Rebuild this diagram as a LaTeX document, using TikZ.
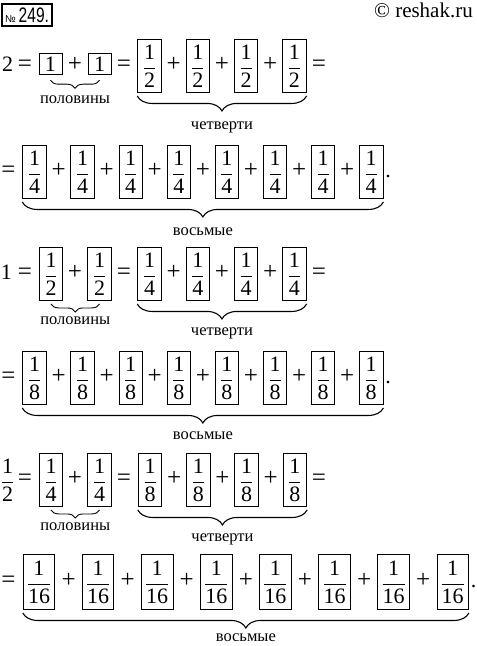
\documentclass[tikz,border=0pt]{standalone}
\usepackage{fontspec}
\usepackage{graphicx}
\setmainfont{Liberation Serif}
\newfontfamily\sansnum{Liberation Sans}
\usetikzlibrary{decorations.pathreplacing,calc}
\newcommand{\fr}[2]{$\displaystyle\frac{\mbox{#1}}{\mbox{#2}}$}
\begin{document}
\begin{tikzpicture}[x=1pt,y=-1pt,
  every node/.style={font=\rmfamily\fontsize{22}{26}\selectfont, inner sep=0pt},
  fbox/.style={draw, line width=0.9pt, minimum width=23.5pt, minimum height=53pt},
  wbox/.style={fbox, minimum width=31.5pt, minimum height=55pt},
  obox/.style={draw, line width=0.9pt, minimum width=23pt, minimum height=21pt, anchor=base},
  sym/.style={anchor=base},
  op/.style={anchor=base, font=\rmfamily\fontsize{25}{28}\selectfont},
  lbl/.style={font=\rmfamily\fontsize{16.5}{18}\selectfont, anchor=base},
  bigbrace/.style={decorate, decoration={brace, mirror, amplitude=15pt, raise=3pt}, line width=1.1pt},
  smallbrace/.style={decorate, decoration={brace, mirror, amplitude=8pt, raise=3pt}, line width=0.9pt}]
\useasboundingbox (0,0) rectangle (477,646);

% header
\node[draw, line width=1.3pt, minimum width=50pt, minimum height=22pt] (num) at (27,15)
  {\sansnum\fontsize{10}{10}\selectfont №\hspace{3pt}\fontsize{21}{21}\selectfont\scalebox{0.74}[1]{249.}};
\node[anchor=base east, font=\rmfamily\fontsize{21}{24}\selectfont] (cr) at (473,17.5) {© reshak.ru};

% ---------- row 1 ----------
\node[sym] (r1n) at (7.5,71.5) {2};
\node[op] (r1e1) at (25,71.5) {=};
\node[obox] (r1h1) at (50.5,71.5) {1};
\node[op] (r1p1) at (75,71.5) {+};
\node[obox] (r1h2) at (99.5,71.5) {1};
\node[op] (r1e2) at (124,71.5) {=};
\foreach \i in {0,...,3} \node[fbox] (r1q\i) at ({149.5+48.3*\i},66) {\fr{1}{2}};
\foreach \i in {0,1,2} \node[op] (r1qp\i) at ({173.65+48.3*\i},71.5) {+};
\node[op] (r1e3) at (319,71.5) {=};
\draw[smallbrace, decoration={raise=5pt}] (r1h1.south) -- (r1h2.south);
\node[lbl] (r1l1) at ($(r1h1.south)!0.5!(r1h2.south)+(0,28)$) {половины};
\draw[bigbrace] (r1q0.south west) -- (r1q3.south east);
\node[lbl] (r1l2) at ($(r1q0.south west)!0.5!(r1q3.south east)+(0,37)$) {четверти};

% ---------- row 2 ----------
\node[op] (r2e) at (8.5,177.5) {=};
\foreach \i in {0,...,7} \node[fbox] (r2b\i) at ({34.5+48.1*\i},172) {\fr{1}{4}};
\foreach \i in {0,...,6} \node[op] (r2p\i) at ({58.55+48.1*\i},177.5) {+};
\node[sym] (r2d) at (388,177.5) {.};
\draw[bigbrace] (r2b0.south west) -- (r2b7.south east);
\node[lbl] (r2l) at ($(r2b0.south west)!0.5!(r2b7.south east)+(0,37)$) {восьмые};

% ---------- row 3 ----------
\node[sym] (r3n) at (6.5,279.5) {1};
\node[op] (r3e1) at (25,279.5) {=};
\node[fbox] (r3h1) at (51,274) {\fr{1}{2}};
\node[op] (r3p1) at (75,279.5) {+};
\node[fbox] (r3h2) at (99.5,274) {\fr{1}{2}};
\node[op] (r3e2) at (124,279.5) {=};
\foreach \i in {0,...,3} \node[fbox] (r3q\i) at ({149.5+48.3*\i},274) {\fr{1}{4}};
\foreach \i in {0,1,2} \node[op] (r3qp\i) at ({173.65+48.3*\i},279.5) {+};
\node[op] (r3e3) at (319,279.5) {=};
\draw[smallbrace] (r3h1.south) -- (r3h2.south);
\node[lbl] (r3l1) at ($(r3h1.south)!0.5!(r3h2.south)+(0,24)$) {половины};
\draw[bigbrace] (r3q0.south west) -- (r3q3.south east);
\node[lbl] (r3l2) at ($(r3q0.south west)!0.5!(r3q3.south east)+(0,35)$) {четверти};

% ---------- row 4 ----------
\node[op] (r4e) at (8.5,383.5) {=};
\foreach \i in {0,...,7} \node[fbox] (r4b\i) at ({34.5+48.1*\i},378) {\fr{1}{8}};
\foreach \i in {0,...,6} \node[op] (r4p\i) at ({58.55+48.1*\i},383.5) {+};
\node[sym] (r4d) at (388,383.5) {.};
\draw[bigbrace] (r4b0.south west) -- (r4b7.south east);
\node[lbl] (r4l) at ($(r4b0.south west)!0.5!(r4b7.south east)+(0,35)$) {восьмые};

% ---------- row 5 ----------
\node (r5n) at (7.5,480) {\fr{1}{2}};
\node[op] (r5e1) at (25,485.5) {=};
\node[fbox] (r5h1) at (51,480) {\fr{1}{4}};
\node[op] (r5p1) at (75,485.5) {+};
\node[fbox] (r5h2) at (99.5,480) {\fr{1}{4}};
\node[op] (r5e2) at (124,485.5) {=};
\foreach \i in {0,...,3} \node[fbox] (r5q\i) at ({150+48.3*\i},480) {\fr{1}{8}};
\foreach \i in {0,1,2} \node[op] (r5qp\i) at ({174.15+48.3*\i},485.5) {+};
\node[op] (r5e3) at (319,485.5) {=};
\draw[smallbrace] (r5h1.south) -- (r5h2.south);
\node[lbl] (r5l1) at ($(r5h1.south)!0.5!(r5h2.south)+(0,24)$) {половины};
\draw[bigbrace] (r5q0.south west) -- (r5q3.south east);
\node[lbl] (r5l2) at ($(r5q0.south west)!0.5!(r5q3.south east)+(0,35)$) {четверти};

% ---------- row 6 ----------
\node[op] (r6e) at (8.5,587.5) {=};
\foreach \i in {0,...,7} \node[wbox] (r6b\i) at ({39+59.1*\i},582) {\fr{1}{16}};
\foreach \i in {0,...,6} \node[op] (r6p\i) at ({68.55+59.1*\i},587.5) {+};
\node[sym] (r6d) at (473.5,587.5) {.};
\draw[bigbrace] (r6b0.south west) -- (r6b7.south east);
\node[lbl] (r6l) at ($(r6b0.south west)!0.5!(r6b7.south east)+(0,32)$) {восьмые};
\end{tikzpicture}
\end{document}
